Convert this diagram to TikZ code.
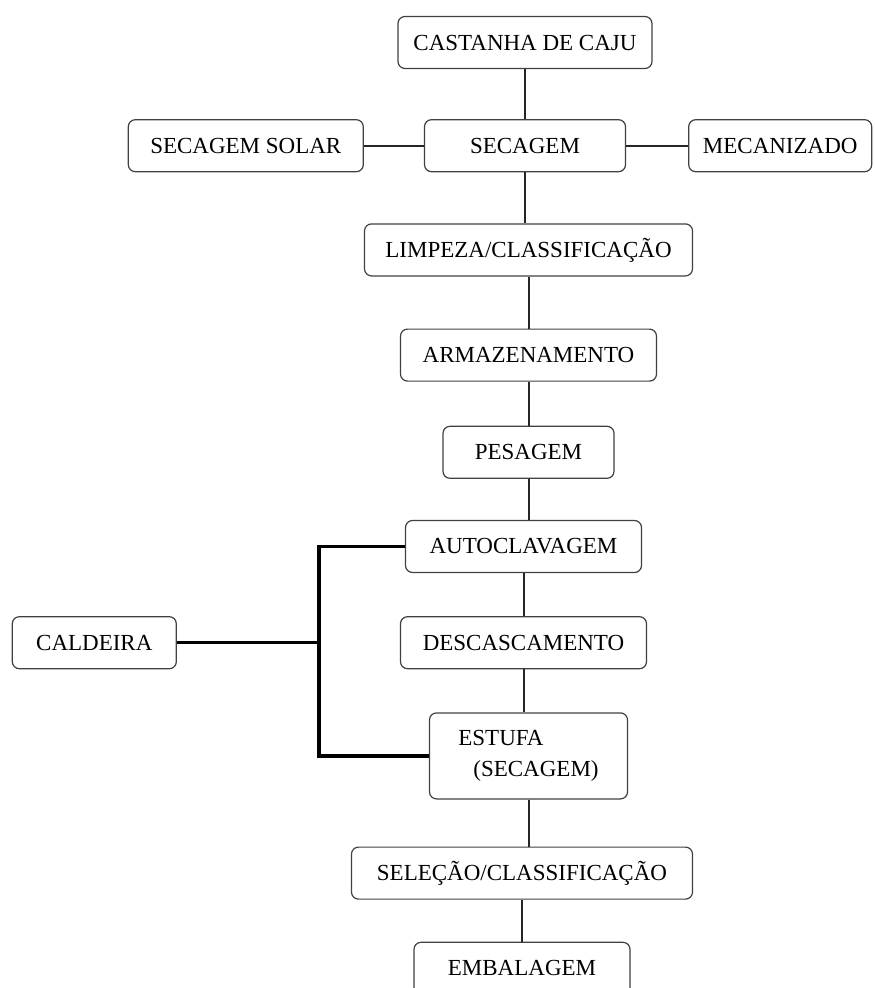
\documentclass[tikz,border=0pt]{standalone}
\usepackage{fontspec}
\setmainfont{Liberation Serif}
\usetikzlibrary{positioning, calc}

\begin{document}
\begin{tikzpicture}[
  font=\fontsize{23}{31}\selectfont,
  node distance=50pt and 60pt,
  box/.style={draw=black!75, line width=1.2pt, rounded corners=7pt, align=center, minimum height=52pt, inner sep=0pt},
  link/.style={line width=2pt, black!85},
  busline/.style={line width=3.4pt, black}
]
\useasboundingbox (0,0) rectangle (875pt,-988pt);

% main column
\node[box, minimum width=254pt] (cast) at (525pt,-42.5pt) {CASTANHA DE CAJU};
\node[box, minimum width=201pt, below=50pt of cast] (sec) {SECAGEM};
\node[box, minimum width=235pt, left=60pt of sec] (solar) {SECAGEM SOLAR};
\node[box, minimum width=183pt, right=62pt of sec] (mec) {MECANIZADO};
\node[box, minimum width=328pt, below=51pt of sec, xshift=3.5pt] (limp) {LIMPEZA/CLASSIFICAÇÃO};
\node[box, minimum width=256pt, below=52pt of limp] (arm) {ARMAZENAMENTO};
\node[box, minimum width=171pt, below=44pt of arm] (pes) {PESAGEM};
\node[box, minimum width=236pt, below=41pt of pes, xshift=-5pt] (auto) {AUTOCLAVAGEM};
\node[box, minimum width=246pt, below=43pt of auto] (desc) {DESCASCAMENTO};
\node[box, minimum width=198pt, minimum height=86pt, align=left, below=43pt of desc, xshift=5pt] (est) {ESTUFA\\\hspace*{15pt}(SECAGEM)};
\node[box, minimum width=341pt, below=47pt of est, xshift=-6.5pt] (sel) {SELEÇÃO/CLASSIFICAÇÃO};
\node[box, minimum width=216pt, below=42pt of sel] (emb) {EMBALAGEM};
\node[box, minimum width=164pt, left=223pt of desc] (cald) {CALDEIRA};

% connectors
\draw[link] (cast) -- (sec);
\draw[link] (solar) -- (sec);
\draw[link] (sec) -- (mec);
\draw[link] (sec.south) -- (sec.south |- limp.north);
\draw[link] (limp) -- (arm);
\draw[link] (arm) -- (pes);
\draw[link] (pes.south) -- (pes.south |- auto.north);
\draw[link] (auto) -- (desc);
\draw[link] (desc.south) -- (desc.south |- est.north);
\draw[link] (est.south) -- (est.south |- sel.north);
\draw[link] (sel) -- (emb);

% steam from the boiler
\coordinate (bus) at ($(cald.east)+(142pt,0)$);
\draw[busline] (cald) -- (bus);
\draw[busline] (auto.west) -| (bus |- est.west) -- (est.west);
\end{tikzpicture}
\end{document}
